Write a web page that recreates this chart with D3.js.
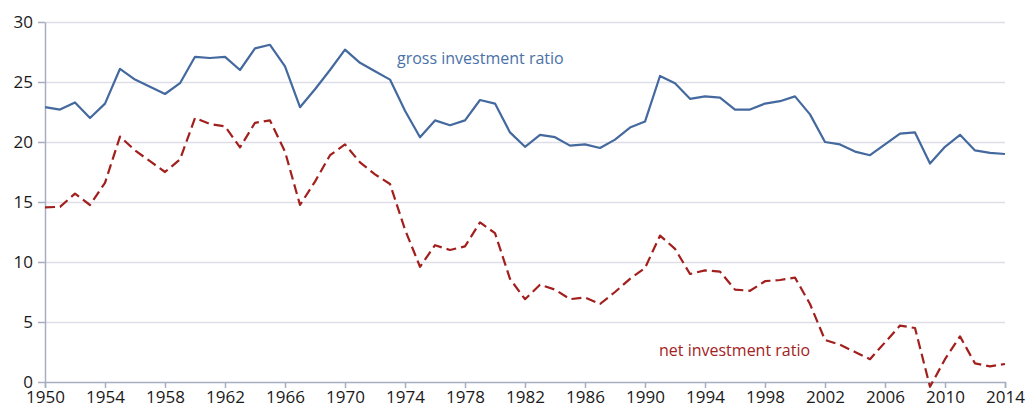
<!DOCTYPE html>
<html>
<head>
<meta charset="utf-8">
<script src="https://cdn.jsdelivr.net/npm/d3@7"></script>
<style>
    body { margin: 0; background: #fff; }
    .axis text { font-family: "Open Sans", sans-serif; font-size: 17px; fill: #1a1a1a; }
    .axis path, .axis line { stroke: #a7aec2; stroke-width: 1.5px; }
    .grid line { stroke: #dddee7; stroke-width: 1.5px; }
    .grid path { display: none; }
    .series-label { font-family: "Open Sans", sans-serif; font-size: 16px; }
</style>
</head>
<body>
<svg id="chart"></svg>
<script>
const years = d3.range(1950, 2015);

const grossInvestment = [
    22.9, 22.7, 23.3, 22.0, 23.2, 26.1, 25.2, 24.6, 24.0, 24.9,
    27.1, 27.0, 27.1, 26.0, 27.8, 28.1, 26.3, 22.9, 24.4, 26.0,
    27.7, 26.6, 25.9, 25.2, 22.6, 20.4, 21.8, 21.4, 21.8, 23.5,
    23.2, 20.8, 19.6, 20.6, 20.4, 19.7, 19.8, 19.5, 20.2, 21.2,
    21.7, 25.5, 24.9, 23.6, 23.8, 23.7, 22.7, 22.7, 23.2, 23.4,
    23.8, 22.3, 20.0, 19.8, 19.2, 18.9, 19.8, 20.7, 20.8, 18.2,
    19.6, 20.6, 19.3, 19.1, 19.0
];

const netInvestment = [
    14.55, 14.6, 15.7, 14.75, 16.6, 20.45, 19.3, 18.4, 17.5, 18.55,
    22.0, 21.5, 21.3, 19.55, 21.6, 21.8, 19.2, 14.75, 16.7, 18.9,
    19.8, 18.3, 17.3, 16.5, 12.7, 9.6, 11.4, 11.0, 11.3, 13.3,
    12.4, 8.6, 6.9, 8.1, 7.7, 6.9, 7.05, 6.5, 7.5, 8.6,
    9.5, 12.2, 11.1, 9.0, 9.3, 9.2, 7.7, 7.6, 8.4, 8.5,
    8.7, 6.5, 3.5, 3.1, 2.5, 1.9, 3.3, 4.7, 4.5, -0.4,
    1.9, 3.8, 1.55, 1.3, 1.5
];

const xTicks = d3.range(1950, 2015, 4);
const yTicks = [0, 5, 10, 15, 20, 25, 30];

const margin = {top: 22, right: 23, bottom: 30, left: 45};
const width = 1028 - margin.left - margin.right;
const height = 412 - margin.top - margin.bottom;

const svg = d3.select('#chart')
    .attr('width', width + margin.left + margin.right)
    .attr('height', height + margin.top + margin.bottom)
    .append('g')
    .attr('transform', `translate(${margin.left},${margin.top})`);

const x = d3.scaleLinear()
    .domain([1950, 2014])
    .range([0, width]);

const y = d3.scaleLinear()
    .domain([0, 30])
    .range([height, 0]);

// grid lines
svg.append('g')
    .attr('class', 'grid')
    .call(d3.axisLeft(y)
        .tickValues(yTicks.slice(1))
        .tickSize(-width)
        .tickFormat(''));

// X axis
svg.append('g')
    .attr('class', 'axis')
    .attr('transform', `translate(0,${height})`)
    .call(d3.axisBottom(x)
        .tickValues(xTicks)
        .tickSize(6)
        .tickSizeOuter(6)
        .tickPadding(3)
        .tickFormat(d3.format('d')));

// Y axis
svg.append('g')
    .attr('class', 'axis')
    .call(d3.axisLeft(y)
        .tickValues(yTicks)
        .tickSize(7)
        .tickSizeOuter(0)
        .tickPadding(5));

const line = values => d3.line()
    .x((d, i) => x(years[i]))
    .y(d => y(d))(values);

// gross investment
svg.append('path')
    .attr('d', line(grossInvestment))
    .attr('fill', 'none')
    .attr('stroke', '#44699e')
    .attr('stroke-width', 2.2)
    .attr('stroke-linejoin', 'round');

// net investment
svg.append('path')
    .attr('d', line(netInvestment))
    .attr('fill', 'none')
    .attr('stroke', '#a11f1c')
    .attr('stroke-width', 2.2)
    .attr('stroke-dasharray', '10,5')
    .attr('stroke-linejoin', 'round');

// series labels
svg.append('text')
    .attr('class', 'series-label')
    .attr('x', 397 - margin.left)
    .attr('y', 64 - margin.top)
    .attr('fill', '#4a72a8')
    .text('gross investment ratio');

svg.append('text')
    .attr('class', 'series-label')
    .attr('x', 659 - margin.left)
    .attr('y', 356 - margin.top)
    .attr('fill', '#a3221e')
    .text('net investment ratio');
</script>
</body>
</html>
